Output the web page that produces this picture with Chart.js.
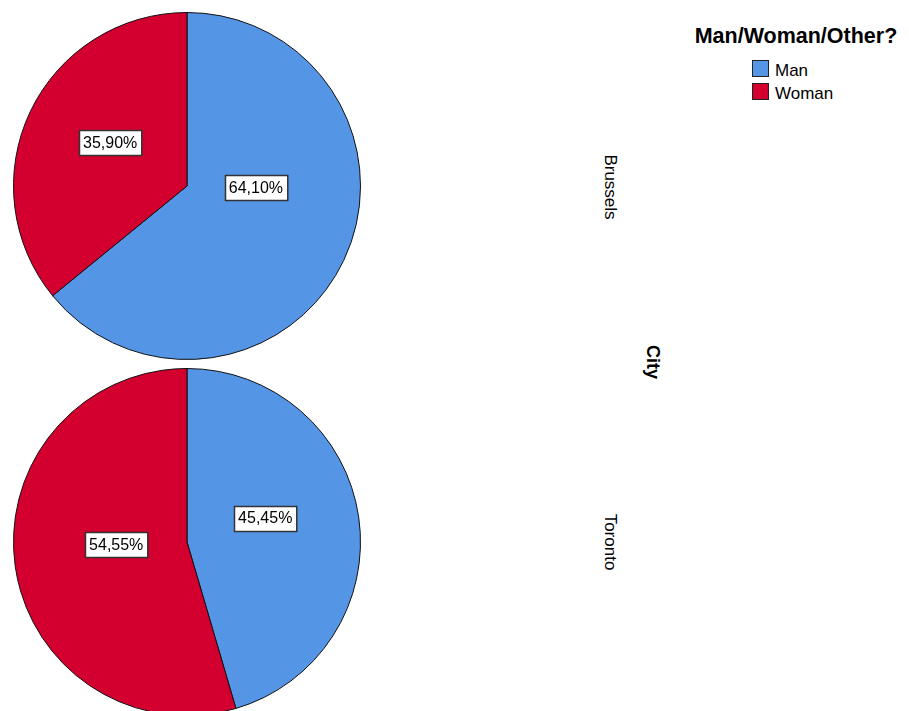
<!DOCTYPE html>
<html>
<head>
<meta charset="utf-8">
<script src="https://cdn.jsdelivr.net/npm/chart.js@4.4.1/dist/chart.umd.min.js"></script>
<style>
  html,body{margin:0;padding:0;background:#fff;}
  body{width:909px;height:711px;overflow:hidden;position:relative;font-family:"Liberation Sans",Arial,sans-serif;color:#000;}
  canvas{position:absolute;}
  .rot{position:absolute;transform:translate(-50%,-50%) rotate(90deg);white-space:nowrap;}
  .sw{position:absolute;width:15px;height:15px;border:1px solid #222;}
  .lg{position:absolute;font-size:17px;line-height:17px;}
</style>
</head>
<body>
<canvas id="pie0" width="348" height="348" style="left:13px;top:12px"></canvas>
<canvas id="pie1" width="348" height="348" style="left:13px;top:368px"></canvas>

<div id="legendTitle" style="position:absolute;left:684px;top:25px;width:224px;text-align:center;font-weight:bold;font-size:21.5px;line-height:23px;"></div>
<div id="legendBox"></div>

<div id="cityLabels"></div>
<div class="rot" id="axisTitle" style="left:652px;top:362px;font-weight:bold;font-size:18px;"></div>

<script>
const cities = ["Brussels","Toronto"];
const genders = ["Man","Woman"];
const manPct = [64.10, 45.45];
const womanPct = [35.90, 54.55];
const legendTitle = "Man/Woman/Other?";
const axisTitle = "City";

const COLORS = { Man:"#5595E6", Woman:"#D3002F" };

// label box placement, fraction of radius from pie centre (per chart, per slice)
const labelOffsets = [
  [[0.397, 0.011], [-0.443, -0.253]],
  [[0.451, -0.138], [-0.408, 0.017]]
];

const fmt = v => v.toFixed(2).replace(".", ",") + "%";

const boxLabels = {
  id:"boxLabels",
  afterDatasetsDraw(chart, args, opts){
    const ctx = chart.ctx;
    const meta = chart.getDatasetMeta(0);
    const vals = chart.data.datasets[0].data;
    ctx.save();
    ctx.font = '16px "Liberation Sans", Arial, sans-serif';
    ctx.textAlign = "center";
    ctx.textBaseline = "middle";
    meta.data.forEach((arc, i) => {
      const off = opts.offsets[i];
      const cx = arc.x + off[0]*arc.outerRadius;
      const cy = arc.y + off[1]*arc.outerRadius;
      const txt = fmt(vals[i]);
      const w = ctx.measureText(txt).width + 8, h = 25;
      const x0 = Math.round(cx - w/2) + 0.5, y0 = Math.round(cy - h/2) + 0.5;
      ctx.fillStyle = "#fff";
      ctx.fillRect(x0, y0, w, h);
      ctx.strokeStyle = "#333";
      ctx.lineWidth = 1.5;
      ctx.strokeRect(x0, y0, w, h);
      ctx.fillStyle = "#000";
      ctx.fillText(txt, cx, cy + 1);
    });
    ctx.restore();
  }
};

cities.forEach((city, ci) => {
  new Chart(document.getElementById("pie" + ci), {
    type:"pie",
    data:{
      labels: genders,
      datasets:[{
        data:[manPct[ci], womanPct[ci]],
        backgroundColor: genders.map(g => COLORS[g]),
        borderColor:"#111",
        borderWidth:1
      }]
    },
    options:{
      responsive:false,
      animation:false,
      layout:{padding:0},
      plugins:{
        legend:{display:false},
        tooltip:{enabled:false},
        boxLabels:{offsets: labelOffsets[ci]}
      }
    },
    plugins:[boxLabels]
  });
});

// legend + panel labels
document.getElementById("legendTitle").textContent = legendTitle;
const lb = document.getElementById("legendBox");
genders.forEach((g, i) => {
  const s = document.createElement("div");
  s.className = "sw";
  s.style.left = "752px"; s.style.top = (60 + i*23) + "px";
  s.style.background = COLORS[g];
  lb.appendChild(s);
  const t = document.createElement("div");
  t.className = "lg";
  t.style.left = "775px"; t.style.top = (62 + i*23) + "px";
  t.textContent = g;
  lb.appendChild(t);
});

const cl = document.getElementById("cityLabels");
cities.forEach((c, i) => {
  const d = document.createElement("div");
  d.className = "rot";
  d.style.left = "610px";
  d.style.top = (187 + i*355) + "px";
  d.style.fontSize = "17px";
  d.textContent = c;
  cl.appendChild(d);
});
document.getElementById("axisTitle").textContent = axisTitle;
</script>
</body>
</html>
